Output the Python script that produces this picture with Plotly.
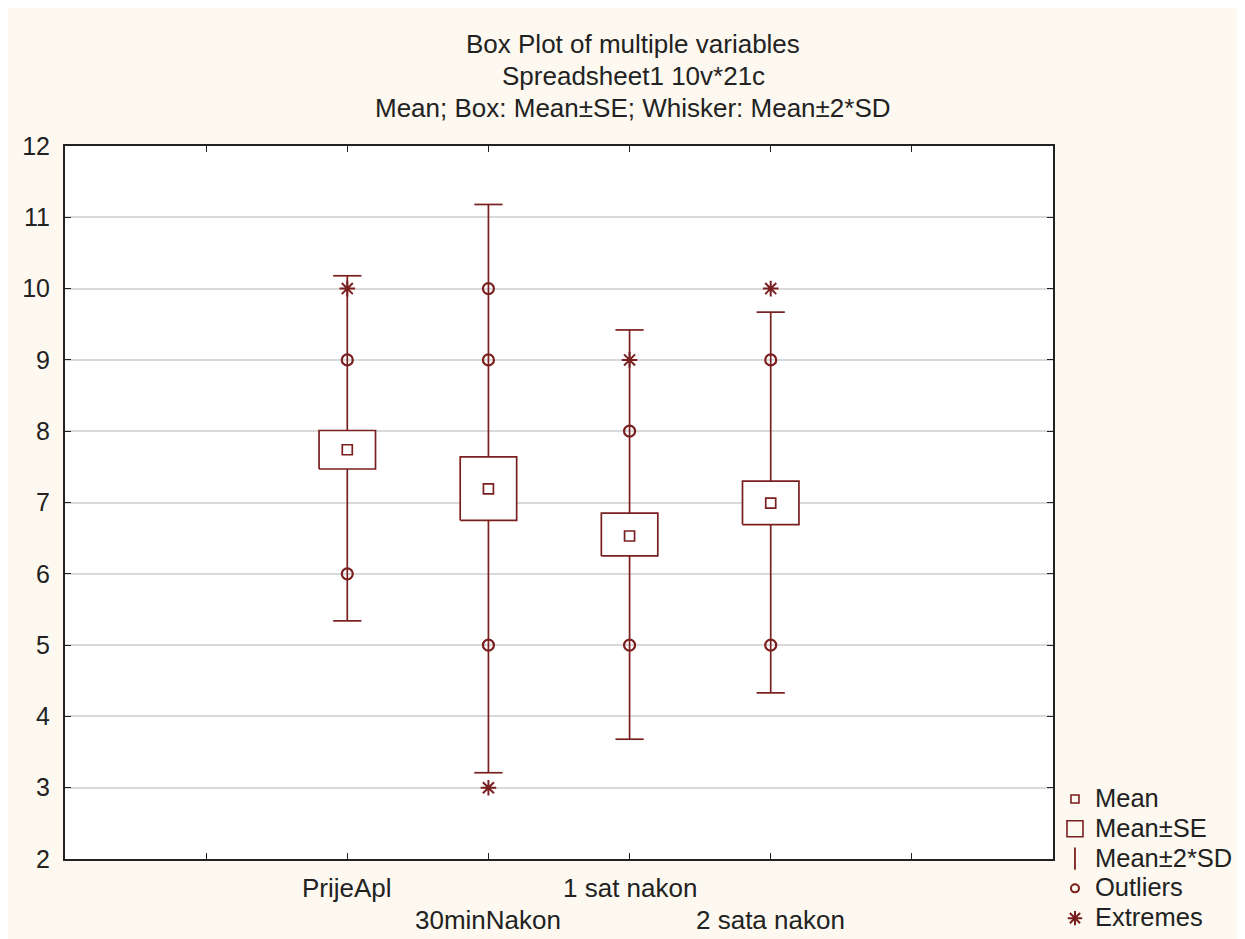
import plotly.graph_objects as go

categories = ["PrijeApl", "30minNakon", "1 sat nakon", "2 sata nakon"]
means = [7.74, 7.19, 6.53, 6.99]
se_low = [7.47, 6.75, 6.25, 6.69]
se_high = [8.01, 7.64, 6.85, 7.30]
sd_low = [5.34, 3.21, 3.68, 4.33]
sd_high = [10.18, 11.18, 9.42, 9.67]
outliers = [[9, 6], [10, 9, 5], [8, 5], [9, 5]]
extremes = [[10], [3], [9], [10]]
y_ticks = [2, 3, 4, 5, 6, 7, 8, 9, 10, 11, 12]

C = "#7a1f1f"
FONT = "Liberation Sans, Arial, sans-serif"
BOX_HALF = 0.2
CAP_HALF = 0.1

pos = [i + 1 for i in range(len(categories))]

# whiskers
wx, wy = [], []
for p, lo, hi, bl, bh in zip(pos, sd_low, sd_high, se_low, se_high):
    wx += [p, p, None, p, p, None, p - CAP_HALF, p + CAP_HALF, None, p - CAP_HALF, p + CAP_HALF, None]
    wy += [hi, bh, None, bl, lo, None, hi, hi, None, lo, lo, None]

# boxes
bx, by = [], []
for p, bl, bh in zip(pos, se_low, se_high):
    bx += [p - BOX_HALF, p + BOX_HALF, p + BOX_HALF, p - BOX_HALF, p - BOX_HALF, None]
    by += [bl, bl, bh, bh, bl, None]

ox, oy, ex, ey = [], [], [], []
for p, o, e in zip(pos, outliers, extremes):
    ox += [p] * len(o)
    oy += o
    ex += [p] * len(e)
    ey += e

fig = go.Figure()
fig.add_trace(go.Scatter(x=wx, y=wy, mode="lines", line=dict(color=C, width=1.7),
                         showlegend=False, hoverinfo="skip"))
fig.add_trace(go.Scatter(x=bx, y=by, mode="lines", fill="toself", fillcolor="white",
                         line=dict(color=C, width=1.7), showlegend=False, hoverinfo="skip"))
fig.add_trace(go.Scatter(x=pos, y=means, mode="markers",
                         marker=dict(symbol="square-open", size=10, color=C, line=dict(width=1.7)),
                         showlegend=False))
fig.add_trace(go.Scatter(x=ox, y=oy, mode="markers",
                         marker=dict(symbol="circle-open", size=11, color=C, line=dict(width=2.2)),
                         showlegend=False))
fig.add_trace(go.Scatter(x=ex, y=ey, mode="markers",
                         marker=dict(symbol="asterisk-open", size=13, color=C, line=dict(width=2)),
                         showlegend=False))

# legend entries
def big(t):
    return '<span style="font-size:25.5px">' + t + '</span>'

leg = [("Mean", "square-open", 8, 1.6), ("Mean±SE", "square-open", 17, 1.6),
       ("Mean±2*SD", "line-ns-open", 18, 1.8), ("Outliers", "circle-open", 8, 2),
       ("Extremes", "asterisk-open", 12, 2)]
for name, sym, sz, lw in leg:
    fig.add_trace(go.Scatter(x=[None], y=[None], mode="markers", name=big(name),
                             marker=dict(symbol=sym, size=sz, color=C, line=dict(width=lw, color=C))))

annotations = []
titles = ["Box Plot of multiple variables", "Spreadsheet1 10v*21c",
          "Mean; Box: Mean±SE; Whisker: Mean±2*SD"]
for t, yy in zip(titles, [1.143, 1.098, 1.053]):
    annotations.append(dict(text=t, xref="paper", yref="paper", x=0.575, y=yy, showarrow=False,
                            xanchor="center", yanchor="middle", font=dict(size=26, color="#222", family=FONT)))
for i, (p, c) in enumerate(zip(pos, categories)):
    annotations.append(dict(text=c, xref="x", yref="paper", x=p, y=-0.0407 if i % 2 == 0 else -0.0856,
                            showarrow=False, xanchor="center", yanchor="middle",
                            font=dict(size=26, color="#222", family=FONT)))

fig.update_layout(
    width=1260, height=950,
    margin=dict(l=57, r=215, t=138, b=99),
    paper_bgcolor="#fdf9f0", plot_bgcolor="white",
    font=dict(family=FONT, color="#222"),
    annotations=annotations,
    showlegend=True,
    legend=dict(x=1.002, xanchor="left", y=0.112, yanchor="top", bgcolor="rgba(0,0,0,0)",
                font=dict(size=20.6, family=FONT, color="#222"), itemsizing="trace"),
)
fig.update_xaxes(range=[-1, 6], tickvals=[0, 1, 2, 3, 4, 5], showticklabels=False,
                 ticks="inside", ticklen=6, tickcolor="#222", showgrid=False, zeroline=False,
                 showline=True, linecolor="#222", linewidth=2, mirror="ticks")
fig.update_yaxes(range=[2, 12], tickvals=y_ticks, ticks="inside", ticklen=6, tickcolor="#222",
                 showgrid=True, gridcolor="#d9d9d9", gridwidth=1.5, zeroline=False,
                 showline=True, linecolor="#222", linewidth=2, mirror="ticks",
                 tickfont=dict(size=25, family=FONT, color="#222"), ticklabelstandoff=8)

fig.write_html("out.html")
